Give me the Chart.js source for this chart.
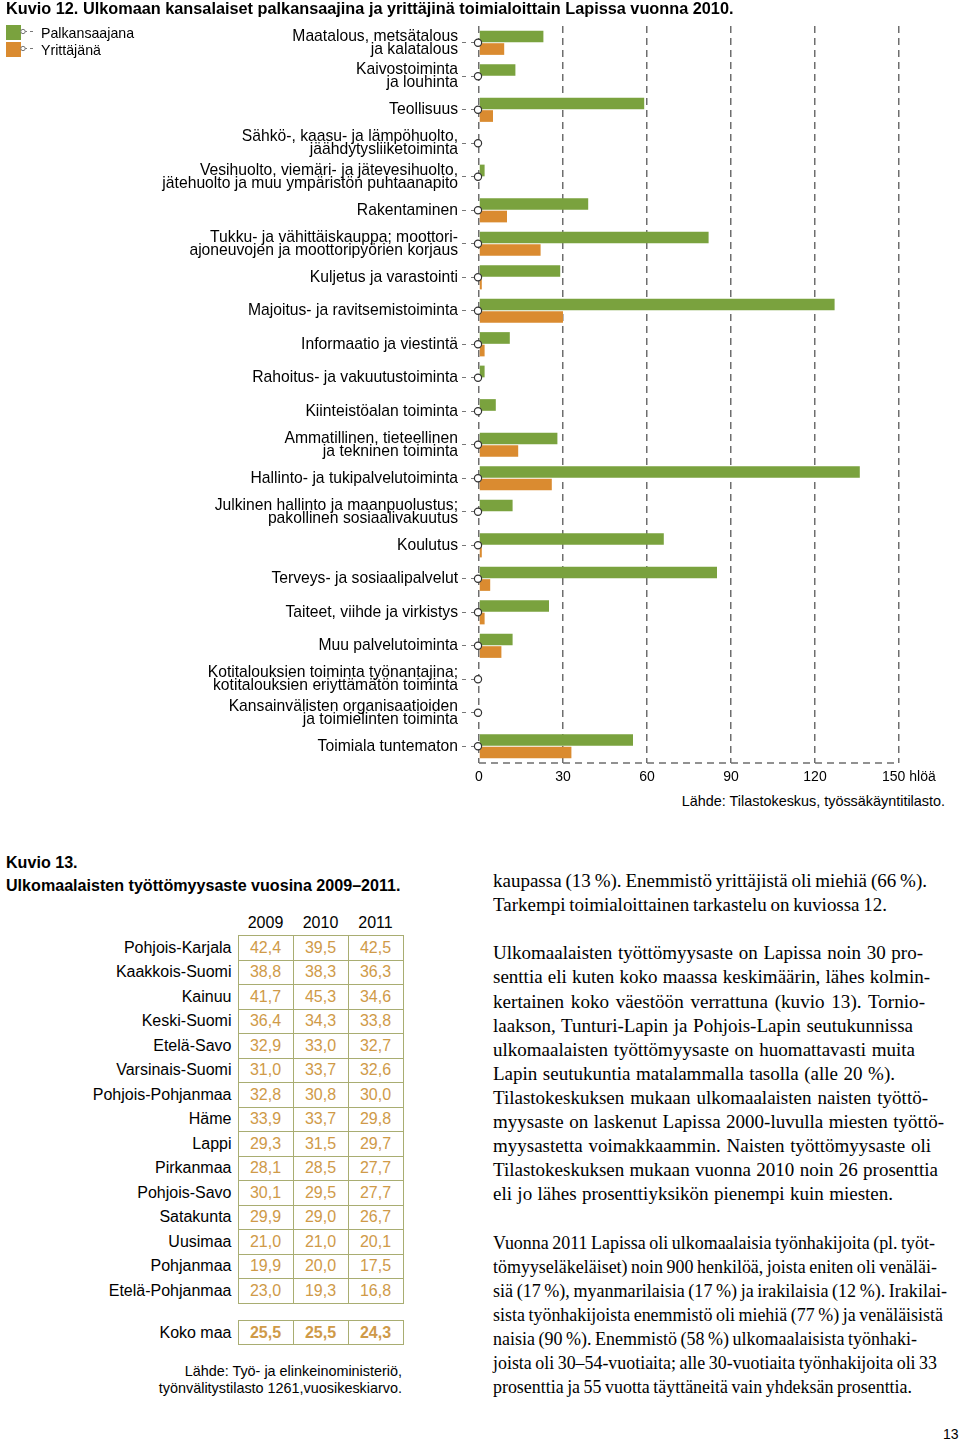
<!DOCTYPE html>
<html><head><meta charset="utf-8">
<script src="https://cdn.jsdelivr.net/npm/chart.js@4.4.0/dist/chart.umd.min.js"></script>
<style>
html,body{margin:0;padding:0;background:#fff;}
body{width:960px;height:1441px;position:relative;overflow:hidden;font-family:'Liberation Sans',Arial,sans-serif;color:#000;}
.abs{position:absolute;white-space:nowrap;}
#tbl,#tbl2{position:absolute;left:0;border-collapse:collapse;table-layout:fixed;font:16px 'Liberation Sans',Arial,sans-serif;}
#tbl td,#tbl2 td{padding:0;vertical-align:middle;}
td.lab{text-align:right;padding-right:6px !important;color:#000;}
td.val{border:1.5px solid #a9ad72;text-align:center;color:#cf9a48;}
td.hd{text-align:center;color:#000;}
.body{font-family:'Liberation Serif','Times New Roman',serif;font-size:19px;line-height:24px;transform-origin:0 50%;}
</style></head><body>
<canvas id="c" width="960" height="790" style="position:absolute;left:0;top:0"></canvas>
<div class="abs" style="left:6px;top:0px;font:bold 16.3px/16px 'Liberation Sans',Arial,sans-serif;">Kuvio 12. Ulkomaan kansalaiset palkansaajina ja yrittäjinä toimialoittain Lapissa vuonna 2010.</div>
<div id="legend"></div>
<div class="abs" style="right:15px;top:792px;font:14.4px/18px 'Liberation Sans',Arial,sans-serif;">Lähde: Tilastokeskus, työssäkäyntitilasto.</div>

<div class="abs" style="left:6px;top:854px;font:bold 16.1px/16px 'Liberation Sans',Arial,sans-serif;">Kuvio 13.</div>
<div class="abs" style="left:6px;top:877px;font:bold 16.1px/16px 'Liberation Sans',Arial,sans-serif;">Ulkomaalaisten työttömyysaste vuosina 2009–2011.</div>
<table id="tbl" style="top:911px"></table>
<table id="tbl2" style="top:1320px"></table>
<div class="abs" style="right:558px;top:1363px;text-align:right;font:14.4px/17px 'Liberation Sans',Arial,sans-serif;">Lähde: Työ- ja elinkeinoministeriö,<br>työnvälitystilasto 1261,vuosikeskiarvo.</div>
<div id="bodytext"></div>
<div class="abs" style="left:943px;top:1426px;font:14px/16px 'Liberation Sans',Arial,sans-serif;">13</div>

<script>
// ---- Kuvio 12 data ----
const categories = [
  ['Maatalous, metsätalous', 'ja kalatalous'],
  ['Kaivostoiminta', 'ja louhinta'],
  'Teollisuus',
  ['Sähkö-, kaasu- ja lämpöhuolto,', 'jäähdytysliiketoiminta'],
  ['Vesihuolto, viemäri- ja jätevesihuolto,', 'jätehuolto ja muu ympäristön puhtaanapito'],
  'Rakentaminen',
  ['Tukku- ja vähittäiskauppa; moottori-', 'ajoneuvojen ja moottoripyörien korjaus'],
  'Kuljetus ja varastointi',
  'Majoitus- ja ravitsemistoiminta',
  'Informaatio ja viestintä',
  'Rahoitus- ja vakuutustoiminta',
  'Kiinteistöalan toiminta',
  ['Ammatillinen, tieteellinen', 'ja tekninen toiminta'],
  'Hallinto- ja tukipalvelutoiminta',
  ['Julkinen hallinto ja maanpuolustus;', 'pakollinen sosiaalivakuutus'],
  'Koulutus',
  'Terveys- ja sosiaalipalvelut',
  'Taiteet, viihde ja virkistys',
  'Muu palvelutoiminta',
  ['Kotitalouksien toiminta työnantajina;', 'kotitalouksien eriyttämätön toiminta'],
  ['Kansainvälisten organisaatioiden', 'ja toimielinten toiminta'],
  'Toimiala tuntematon'
];
const palkansaajat = [23, 13, 59, 0, 2, 39, 82, 29, 127, 11, 2, 6, 28, 136, 12, 66, 85, 25, 12, 0, 0, 55];
const yrittajat    = [9, 0, 5, 0, 0, 10, 22, 1, 30, 2, 0, 0, 14, 26, 0, 1, 4, 2, 8, 0, 0, 33];
const seriesNames = ['Palkansaajana', 'Yrittäjänä'];
const xTicks = [0, 30, 60, 90, 120, 150];
const xUnit = 'hlöä';

// ---- Kuvio 13 data ----
const years = ['2009', '2010', '2011'];
const regions = ['Pohjois-Karjala','Kaakkois-Suomi','Kainuu','Keski-Suomi','Etelä-Savo','Varsinais-Suomi','Pohjois-Pohjanmaa','Häme','Lappi','Pirkanmaa','Pohjois-Savo','Satakunta','Uusimaa','Pohjanmaa','Etelä-Pohjanmaa'];
const rate2009 = [42.4,38.8,41.7,36.4,32.9,31.0,32.8,33.9,29.3,28.1,30.1,29.9,21.0,19.9,23.0];
const rate2010 = [39.5,38.3,45.3,34.3,33.0,33.7,30.8,33.7,31.5,28.5,29.5,29.0,21.0,20.0,19.3];
const rate2011 = [42.5,36.3,34.6,33.8,32.7,32.6,30.0,29.8,29.7,27.7,27.7,26.7,20.1,17.5,16.8];
const totalLabel = 'Koko maa';
const totalRates = [25.5, 25.5, 24.3];

const bodyLines = [
  'kaupassa (13 %). Enemmistö yrittäjistä oli miehiä (66 %).',
  'Tarkempi toimialoittainen tarkastelu on kuviossa 12.',
  '',
  'Ulkomaalaisten työttömyysaste on Lapissa noin 30 pro-',
  'senttia eli kuten koko maassa keskimäärin, lähes kolmin-',
  'kertainen koko väestöön verrattuna (kuvio 13). Tornio-',
  'laakson, Tunturi-Lapin ja Pohjois-Lapin seutukunnissa',
  'ulkomaalaisten työttömyysaste on huomattavasti muita',
  'Lapin seutukuntia matalammalla tasolla (alle 20 %).',
  'Tilastokeskuksen mukaan ulkomaalaisten naisten työttö-',
  'myysaste on laskenut Lapissa 2000-luvulla miesten työttö-',
  'myysastetta voimakkaammin. Naisten työttömyysaste oli',
  'Tilastokeskuksen mukaan vuonna 2010 noin 26 prosenttia',
  'eli jo lähes prosenttiyksikön pienempi kuin miesten.',
  '',
  'Vuonna 2011 Lapissa oli ulkomaalaisia työnhakijoita (pl. työt-',
  'tömyyseläkeläiset) noin 900 henkilöä, joista eniten oli venäläi-',
  'siä (17 %), myanmarilaisia (17 %) ja irakilaisia (12 %). Irakilai-',
  'sista työnhakijoista enemmistö oli miehiä (77 %) ja venäläisistä',
  'naisia (90 %). Enemmistö (58 %) ulkomaalaisista työnhaki-',
  'joista oli 30–54-vuotiaita; alle 30-vuotiaita työnhakijoita oli 33',
  'prosenttia ja 55 vuotta täyttäneitä vain yhdeksän prosenttia.'
];
const bodyRightEdges = [927,887,0,923,930,925,913,915,895,928,944,931,938,893,0,935,937,947,943,917,937,912];

// ---- styles ----
const GREEN = '#7aa23e', ORANGE = '#da8b30', GRID = '#6e6e6e';
const FONT = "'Liberation Sans', Arial, sans-serif";

// legend (HTML)
(function(){
  const lg = document.getElementById('legend');
  const cols = [GREEN, ORANGE];
  seriesNames.forEach((n, i) => {
    const top = 25 + i * 17;
    lg.insertAdjacentHTML('beforeend',
      `<div class="abs" style="left:6px;top:${top}px;width:15px;height:14.5px;background:${cols[i]}"></div>` +
      `<svg class="abs" style="left:19px;top:${top}px" width="18" height="14"><line x1="5" y1="6.5" x2="17" y2="6.5" stroke="#777" stroke-width="1.2" stroke-dasharray="3,3"/><circle cx="4" cy="6.5" r="2.2" fill="#fff" stroke="#777" stroke-width="1"/></svg>` +
      `<div class="abs" style="left:41px;top:${top}px;font:14.2px/16px ${FONT}">${n}</div>`);
  });
})();

const overlay = {
  id: 'overlay',
  afterDatasetsDraw(chart) {
    const {ctx, scales: {x, y}, chartArea} = chart;
    ctx.save();
    ctx.setLineDash([7, 5]);
    ctx.strokeStyle = GRID; ctx.lineWidth = 1.5;
    ctx.beginPath(); ctx.moveTo(chartArea.left, chartArea.bottom); ctx.lineTo(chartArea.right, chartArea.bottom); ctx.stroke();
    ctx.setLineDash([]);
    const x0 = x.getPixelForValue(0);
    y.ticks.forEach((t, i) => {
      const py = y.getPixelForTick(i);
      ctx.beginPath(); ctx.arc(x0 - 1, py, 3.6, 0, Math.PI * 2);
      ctx.fillStyle = '#fff'; ctx.fill();
      ctx.lineWidth = 1.2; ctx.strokeStyle = '#333'; ctx.stroke();
    });
    const last = xTicks[xTicks.length - 1];
    ctx.font = '14px ' + FONT; ctx.fillStyle = '#000';
    ctx.textAlign = 'left'; ctx.textBaseline = 'middle';
    ctx.fillText(last + ' ' + xUnit, x.getPixelForValue(last) - 17, chartArea.bottom + 6 + 8.4);
    ctx.restore();
  }
};

Chart.defaults.font.family = FONT;
Chart.defaults.color = '#000';

new Chart(document.getElementById('c'), {
  type: 'bar',
  data: {
    labels: categories,
    datasets: [
      {label: seriesNames[0], data: palkansaajat, backgroundColor: GREEN, categoryPercentage: 0.75, barPercentage: 0.93},
      {label: seriesNames[1], data: yrittajat, backgroundColor: ORANGE, categoryPercentage: 0.75, barPercentage: 0.93}
    ]
  },
  options: {
    indexAxis: 'y',
    responsive: false,
    animation: false,
    layout: {padding: {top: 26, right: 61, left: 0, bottom: 0}},
    plugins: {legend: {display: false}, tooltip: {enabled: false}, title: {display: false}},
    scales: {
      x: {
        min: 0, max: 150,
        afterBuildTicks: s => { s.ticks = xTicks.map(v => ({value: v})); },
        ticks: {autoSkip: false, maxRotation: 0, padding: 6, font: {size: 14},
          callback: v => v === xTicks[xTicks.length - 1] ? '' : String(v)},
        grid: {color: GRID, lineWidth: 1.5, drawTicks: false},
        border: {display: false, dash: [7, 5]},
        afterFit: s => { s.height = 27; }
      },
      y: {
        ticks: {autoSkip: false, padding: 4, font: {size: 15.7, lineHeight: 0.83}, color: '#000'},
        grid: {offset: false, drawOnChartArea: false, drawTicks: true, tickLength: 17, tickColor: '#777', tickWidth: 1.2, tickBorderDash: [4, 5]},
        border: {display: false},
        afterFit: s => { s.width = 479; }
      }
    }
  },
  plugins: [overlay]
});

// ---- table ----
(function(){
  const fmt = v => v.toFixed(1).replace('.', ',');
  const cg = '<colgroup><col style="width:238px"><col style="width:55px"><col style="width:55px"><col style="width:55px"></colgroup>';
  let h = cg + '<tr style="height:24.5px"><td class="lab"></td>' + years.map(y => `<td class="hd">${y}</td>`).join('') + '</tr>';
  const cols = [rate2009, rate2010, rate2011];
  regions.forEach((r, i) => {
    h += `<tr style="height:24.5px"><td class="lab">${r}</td>` + cols.map(c => `<td class="val">${fmt(c[i])}</td>`).join('') + '</tr>';
  });
  document.getElementById('tbl').innerHTML = h;
  document.getElementById('tbl2').innerHTML = cg + `<tr style="height:24px"><td class="lab">${totalLabel}</td>` +
    totalRates.map(v => `<td class="val" style="font-weight:bold">${fmt(v)}</td>`).join('') + '</tr>';
})();

// ---- body text ----
(function(){
  const bt = document.getElementById('bodytext');
  bodyLines.forEach((t, i) => {
    if (!t) return;
    const d = document.createElement('div');
    d.className = 'abs body';
    d.style.left = '493px';
    d.style.top = (869 + i * 24.1) + 'px';
    d.textContent = t;
    bt.appendChild(d);
    const nat = d.getBoundingClientRect().width;
    const target = bodyRightEdges[i] - 493;
    const spaces = (t.match(/ /g) || []).length;
    let ws = spaces ? (target - nat) / spaces : 0;
    ws = Math.max(-1, Math.min(2, ws));
    d.style.wordSpacing = ws + 'px';
    const nat2 = d.getBoundingClientRect().width;
    d.style.transform = 'scaleX(' + (target / nat2) + ')';
  });
})();
</script>
</body></html>
